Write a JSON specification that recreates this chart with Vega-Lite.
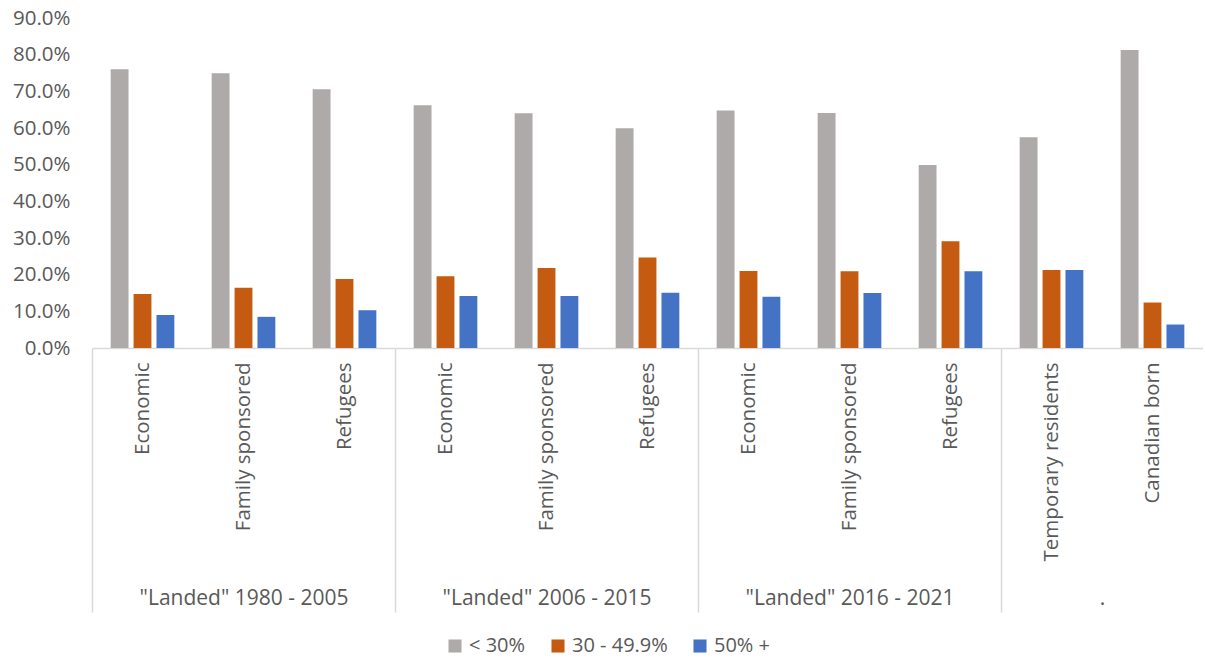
{
  "$schema": "https://vega.github.io/schema/vega-lite/v6.json",
  "padding": {"left": 12, "top": 8, "right": 0, "bottom": 0},
  "background": "white",
  "datasets": {
    "rows": [
      {"group": "\"Landed\" 1980 - 2005", "cat": "Economic", "series": "< 30%", "value": 0.760},
      {"group": "\"Landed\" 1980 - 2005", "cat": "Economic", "series": "30 - 49.9%", "value": 0.147},
      {"group": "\"Landed\" 1980 - 2005", "cat": "Economic", "series": "50% +", "value": 0.090},
      {"group": "\"Landed\" 1980 - 2005", "cat": "Family sponsored", "series": "< 30%", "value": 0.749},
      {"group": "\"Landed\" 1980 - 2005", "cat": "Family sponsored", "series": "30 - 49.9%", "value": 0.164},
      {"group": "\"Landed\" 1980 - 2005", "cat": "Family sponsored", "series": "50% +", "value": 0.085},
      {"group": "\"Landed\" 1980 - 2005", "cat": "Refugees", "series": "< 30%", "value": 0.706},
      {"group": "\"Landed\" 1980 - 2005", "cat": "Refugees", "series": "30 - 49.9%", "value": 0.188},
      {"group": "\"Landed\" 1980 - 2005", "cat": "Refugees", "series": "50% +", "value": 0.103},
      {"group": "\"Landed\" 2006 - 2015", "cat": "Economic", "series": "< 30%", "value": 0.662},
      {"group": "\"Landed\" 2006 - 2015", "cat": "Economic", "series": "30 - 49.9%", "value": 0.196},
      {"group": "\"Landed\" 2006 - 2015", "cat": "Economic", "series": "50% +", "value": 0.142},
      {"group": "\"Landed\" 2006 - 2015", "cat": "Family sponsored", "series": "< 30%", "value": 0.640},
      {"group": "\"Landed\" 2006 - 2015", "cat": "Family sponsored", "series": "30 - 49.9%", "value": 0.218},
      {"group": "\"Landed\" 2006 - 2015", "cat": "Family sponsored", "series": "50% +", "value": 0.142},
      {"group": "\"Landed\" 2006 - 2015", "cat": "Refugees", "series": "< 30%", "value": 0.599},
      {"group": "\"Landed\" 2006 - 2015", "cat": "Refugees", "series": "30 - 49.9%", "value": 0.247},
      {"group": "\"Landed\" 2006 - 2015", "cat": "Refugees", "series": "50% +", "value": 0.151},
      {"group": "\"Landed\" 2016 - 2021", "cat": "Economic", "series": "< 30%", "value": 0.648},
      {"group": "\"Landed\" 2016 - 2021", "cat": "Economic", "series": "30 - 49.9%", "value": 0.210},
      {"group": "\"Landed\" 2016 - 2021", "cat": "Economic", "series": "50% +", "value": 0.140},
      {"group": "\"Landed\" 2016 - 2021", "cat": "Family sponsored", "series": "< 30%", "value": 0.641},
      {"group": "\"Landed\" 2016 - 2021", "cat": "Family sponsored", "series": "30 - 49.9%", "value": 0.209},
      {"group": "\"Landed\" 2016 - 2021", "cat": "Family sponsored", "series": "50% +", "value": 0.150},
      {"group": "\"Landed\" 2016 - 2021", "cat": "Refugees", "series": "< 30%", "value": 0.499},
      {"group": "\"Landed\" 2016 - 2021", "cat": "Refugees", "series": "30 - 49.9%", "value": 0.291},
      {"group": "\"Landed\" 2016 - 2021", "cat": "Refugees", "series": "50% +", "value": 0.209},
      {"group": ".", "cat": "Temporary residents", "series": "< 30%", "value": 0.575},
      {"group": ".", "cat": "Temporary residents", "series": "30 - 49.9%", "value": 0.213},
      {"group": ".", "cat": "Temporary residents", "series": "50% +", "value": 0.213},
      {"group": ".", "cat": "Canadian born", "series": "< 30%", "value": 0.813},
      {"group": ".", "cat": "Canadian born", "series": "30 - 49.9%", "value": 0.124},
      {"group": ".", "cat": "Canadian born", "series": "50% +", "value": 0.064}
    ]
  },
  "data": {"name": "rows"},
  "spacing": 0,
  "bounds": "flush",
  "resolve": {"scale": {"x": "independent", "y": "independent", "color": "shared"}},
  "hconcat": [
    {
      "width": 303, "height": 330,
      "transform": [{"filter": "datum.group === '\"Landed\" 1980 - 2005'"}],
      "mark": "bar",
      "encoding": {
        "x": {"field": "cat", "type": "nominal", "sort": ["Economic", "Family sponsored", "Refugees"], "scale": {"paddingInner": 0, "paddingOuter": 0},
          "axis": {"title": "\"Landed\" 1980 - 2005", "tickOpacity": {"condition": {"test": "datum.value === 'Economic'", "value": 1}, "value": 0}}},
        "xOffset": {"field": "series", "type": "nominal", "sort": ["< 30%", "30 - 49.9%", "50% +"], "scale": {"paddingInner": 0.22, "paddingOuter": 0.815}},
        "y": {"field": "value", "type": "quantitative", "scale": {"domain": [0, 0.9], "nice": false},
          "axis": {"title": null, "format": ".1%", "values": [0, 0.1, 0.2, 0.3, 0.4, 0.5, 0.6, 0.7, 0.8, 0.9], "grid": false, "domain": false, "ticks": false, "labelPadding": 22, "labelFont": "Open Sans", "labelFontSize": 20.5, "labelColor": "#595959"}},
        "color": {"field": "series", "type": "nominal", "sort": ["< 30%", "30 - 49.9%", "50% +"], "scale": {"domain": ["< 30%", "30 - 49.9%", "50% +"], "range": ["#aeaaaa", "#c55a11", "#4472c4"]}}
      }
    },
    {
      "width": 303, "height": 330,
      "transform": [{"filter": "datum.group === '\"Landed\" 2006 - 2015'"}],
      "mark": "bar",
      "encoding": {
        "x": {"field": "cat", "type": "nominal", "sort": ["Economic", "Family sponsored", "Refugees"], "scale": {"paddingInner": 0, "paddingOuter": 0},
          "axis": {"title": "\"Landed\" 2006 - 2015", "tickOpacity": {"condition": {"test": "datum.value === 'Economic'", "value": 1}, "value": 0}}},
        "xOffset": {"field": "series", "type": "nominal", "sort": ["< 30%", "30 - 49.9%", "50% +"], "scale": {"paddingInner": 0.22, "paddingOuter": 0.815}},
        "y": {"field": "value", "type": "quantitative", "scale": {"domain": [0, 0.9], "nice": false}, "axis": null},
        "color": {"field": "series", "type": "nominal", "sort": ["< 30%", "30 - 49.9%", "50% +"], "scale": {"domain": ["< 30%", "30 - 49.9%", "50% +"], "range": ["#aeaaaa", "#c55a11", "#4472c4"]}}
      }
    },
    {
      "width": 303, "height": 330,
      "transform": [{"filter": "datum.group === '\"Landed\" 2016 - 2021'"}],
      "mark": "bar",
      "encoding": {
        "x": {"field": "cat", "type": "nominal", "sort": ["Economic", "Family sponsored", "Refugees"], "scale": {"paddingInner": 0, "paddingOuter": 0},
          "axis": {"title": "\"Landed\" 2016 - 2021", "tickOpacity": {"condition": {"test": "datum.value === 'Economic'", "value": 1}, "value": 0}}},
        "xOffset": {"field": "series", "type": "nominal", "sort": ["< 30%", "30 - 49.9%", "50% +"], "scale": {"paddingInner": 0.22, "paddingOuter": 0.815}},
        "y": {"field": "value", "type": "quantitative", "scale": {"domain": [0, 0.9], "nice": false}, "axis": null},
        "color": {"field": "series", "type": "nominal", "sort": ["< 30%", "30 - 49.9%", "50% +"], "scale": {"domain": ["< 30%", "30 - 49.9%", "50% +"], "range": ["#aeaaaa", "#c55a11", "#4472c4"]}}
      }
    },
    {
      "width": 202, "height": 330,
      "transform": [{"filter": "datum.group === '.'"}],
      "mark": "bar",
      "encoding": {
        "x": {"field": "cat", "type": "nominal", "sort": ["Temporary residents", "Canadian born"], "scale": {"paddingInner": 0, "paddingOuter": 0},
          "axis": {"title": ".", "tickOpacity": {"condition": {"test": "datum.value === 'Temporary residents'", "value": 1}, "value": 0}}},
        "xOffset": {"field": "series", "type": "nominal", "sort": ["< 30%", "30 - 49.9%", "50% +"], "scale": {"paddingInner": 0.22, "paddingOuter": 0.815}},
        "y": {"field": "value", "type": "quantitative", "scale": {"domain": [0, 0.9], "nice": false}, "axis": null},
        "color": {"field": "series", "type": "nominal", "sort": ["< 30%", "30 - 49.9%", "50% +"], "scale": {"domain": ["< 30%", "30 - 49.9%", "50% +"], "range": ["#aeaaaa", "#c55a11", "#4472c4"]}}
      }
    }
  ],
  "config": {
    "view": {"stroke": null},
    "axisX": {
      "labelAngle": -90,
      "labelFont": "Open Sans",
      "labelFontSize": 20.5,
      "labelColor": "#595959",
      "labelLimit": 400,
      "labelPadding": -250,
      "bandPosition": 0,
      "domainColor": "#d9d9d9",
      "domainWidth": 1.5,
      "tickColor": "#d9d9d9",
      "tickWidth": 1.5,
      "tickSize": 264,
      "titleFont": "Open Sans",
      "titleFontSize": 21,
      "titleFontWeight": "normal",
      "titleColor": "#595959",
      "titleY": 250,
      "titleBaseline": "middle"
    },
    "legend": {
      "orient": "bottom",
      "direction": "horizontal",
      "title": null,
      "symbolType": "square",
      "symbolSize": 170,
      "symbolStrokeWidth": 0,
      "labelFont": "Open Sans",
      "labelFontSize": 20,
      "labelColor": "#595959",
      "columnPadding": 22,
      "offset": 23,
      "layout": {"bottom": {"anchor": "middle"}}
    }
  }
}
